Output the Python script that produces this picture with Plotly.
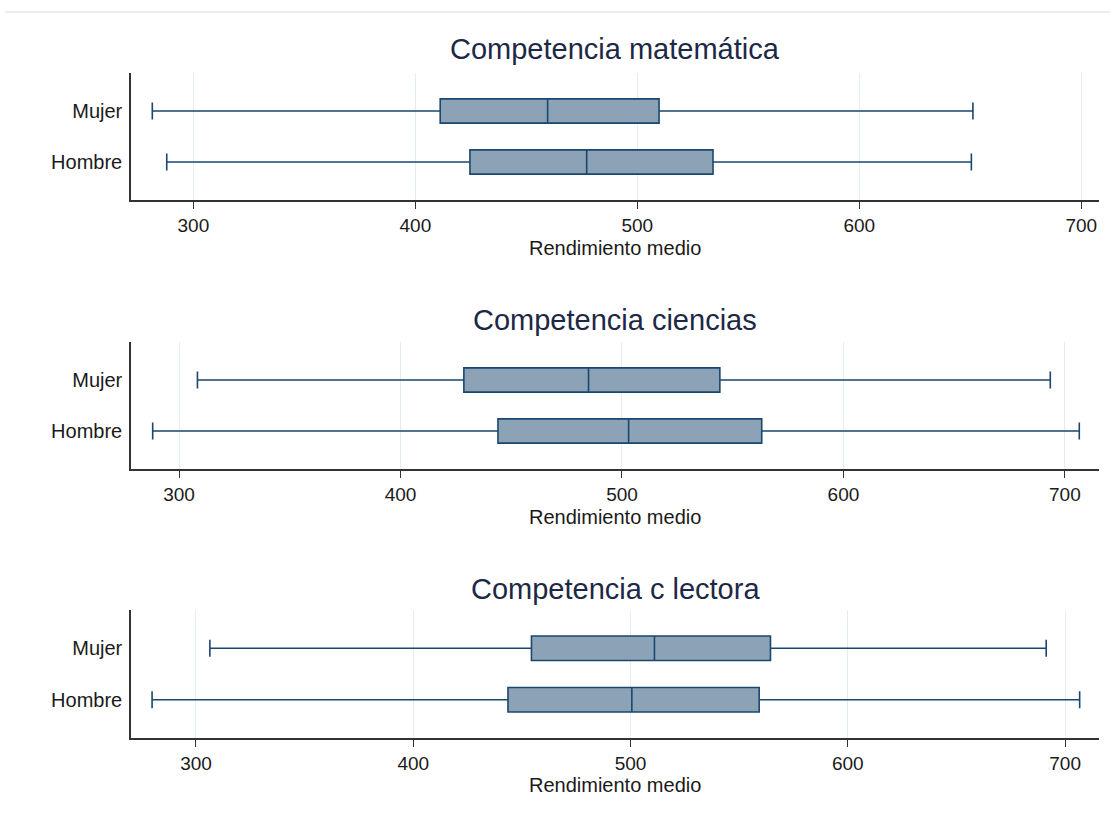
import plotly.graph_objects as go

# Box statistics (lower whisker, Q1, median, Q3, upper whisker) per group
groups = ["Mujer", "Hombre"]

mat_low = [281.5, 288.0]
mat_q1 = [411.2, 424.6]
mat_med = [459.6, 477.2]
mat_q3 = [509.8, 534.1]
mat_high = [651.2, 650.5]

cie_low = [308.3, 288.1]
cie_q1 = [428.6, 444.0]
cie_med = [484.9, 503.0]
cie_q3 = [544.2, 563.1]
cie_high = [693.4, 706.5]

lec_low = [306.4, 279.8]
lec_q1 = [454.4, 443.6]
lec_med = [511.0, 500.6]
lec_q3 = [564.4, 559.2]
lec_high = [691.3, 706.7]

panel_titles = ["Competencia matemática", "Competencia ciencias", "Competencia c lectora"]
x_title = "Rendimiento medio"
x_ticks = [300, 400, 500, 600, 700]
x_ranges = [[271.9, 708.0], [278.3, 715.4], [270.1, 715.6]]

W, H = 1110, 814
LINE = "#1a476f"
FILL = "#8ca3b7"
FONT = "Liberation Sans, Arial, sans-serif"


def py(px):
    return 1 - px / H


def px_x(px):
    return px / W


panels = [
    (mat_low, mat_q1, mat_med, mat_q3, mat_high),
    (cie_low, cie_q1, cie_med, cie_q3, cie_high),
    (lec_low, lec_q1, lec_med, lec_q3, lec_high),
]
# plot-area pixel bounds (top, bottom) and text rows (title, axis title)
rows = [(73, 200, 49, 248), (342, 469, 320, 517), (610, 738, 589, 785)]

fig = go.Figure()
annotations = []
layout = {}
for i, (stats, (top, bot, t_y, a_y)) in enumerate(zip(panels, rows)):
    low, q1, med, q3, high = stats
    suffix = "" if i == 0 else str(i + 1)
    fig.add_trace(go.Box(
        y=groups, q1=q1, median=med, q3=q3,
        lowerfence=low, upperfence=high,
        orientation="h", boxpoints=False,
        width=0.476, whiskerwidth=0.7,
        fillcolor=FILL, line=dict(color=LINE, width=1.6),
        xaxis="x" + suffix, yaxis="y" + suffix,
        showlegend=False, hoverinfo="skip",
    ))
    layout["xaxis" + suffix] = dict(
        domain=[px_x(131), px_x(1099)], anchor="y" + suffix,
        range=x_ranges[i], tickvals=x_ticks,
        showline=True, linecolor="#333333", linewidth=1.5,
        ticks="outside", ticklen=7, tickwidth=1.2, tickcolor="#333333",
        showgrid=True, gridcolor="#e6edf2", gridwidth=1,
        zeroline=False, tickfont=dict(size=19, color="#1a1a1a", family=FONT),
    )
    layout["yaxis" + suffix] = dict(
        domain=[py(bot), py(top)], anchor="x" + suffix,
        type="category", categoryarray=["Hombre", "Mujer"],
        range=[-0.745, 1.745],
        showline=True, linecolor="#333333", linewidth=1.5,
        ticks="", showgrid=False, zeroline=False,
        ticklabelstandoff=3,
        tickfont=dict(size=20, color="#1a1a1a", family=FONT),
    )
    annotations.append(dict(
        text=panel_titles[i], x=px_x(615), y=py(t_y), xref="paper", yref="paper",
        showarrow=False, xanchor="center", yanchor="middle",
        font=dict(size=29, color="#1c2845", family=FONT),
    ))
    annotations.append(dict(
        text=x_title, x=px_x(615), y=py(a_y), xref="paper", yref="paper",
        showarrow=False, xanchor="center", yanchor="middle",
        font=dict(size=20, color="#1a1a1a", family=FONT),
    ))

fig.update_layout(
    width=W, height=H,
    margin=dict(l=0, r=0, t=0, b=0),
    paper_bgcolor="white", plot_bgcolor="white",
    annotations=annotations,
    shapes=[dict(type="line", xref="paper", yref="paper",
                 x0=px_x(5), x1=1, y0=py(12), y1=py(12),
                 line=dict(color="#e3e9ee", width=1.5))],
    **layout,
)

fig.write_html("out.html")
